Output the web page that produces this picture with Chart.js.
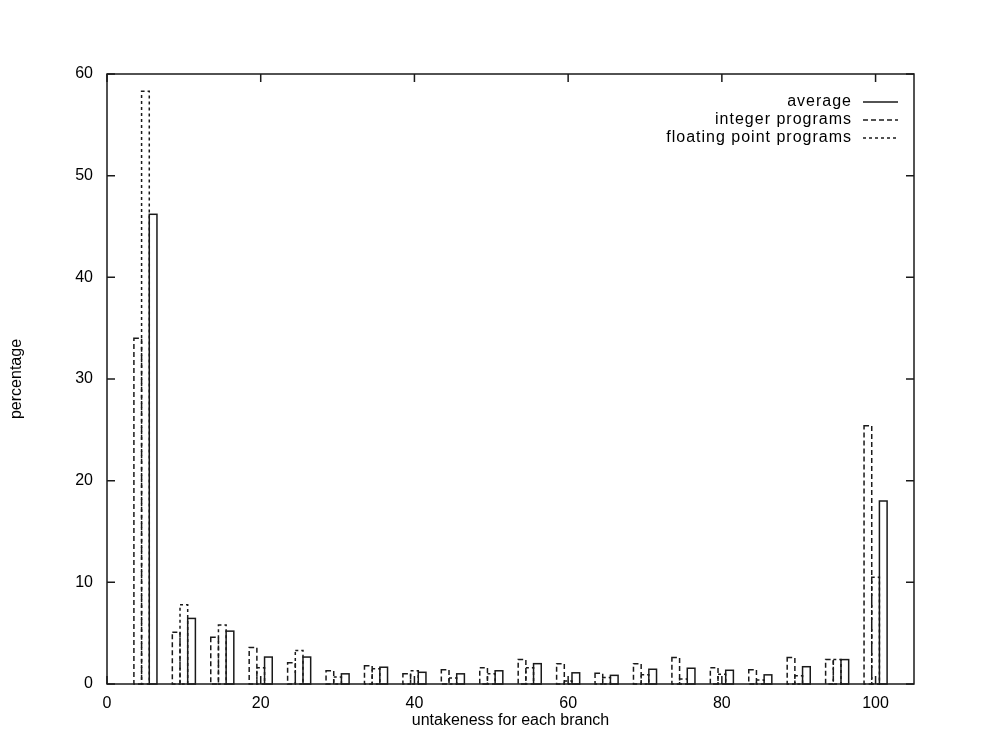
<!DOCTYPE html>
<html>
<head>
<meta charset="utf-8">
<script src="https://cdn.jsdelivr.net/npm/chart.js@4.4.1/dist/chart.umd.min.js"></script>
<style>
  html, body { margin: 0; padding: 0; background: #fff; }
  #wrap { width: 990px; height: 742px; }
</style>
</head>
<body>
<div id="wrap"><canvas id="histChart" width="990" height="742"></canvas></div>
<script>
// untakeness bins (percent)
const bins = [5, 10, 15, 20, 25, 30, 35, 40, 45, 50, 55, 60, 65, 70, 75, 80, 85, 90, 95, 100];

// percentage of branches per bin
const integerPrograms = [34.0, 5.1, 4.6, 3.6, 2.1, 1.3, 1.8, 1.0, 1.4, 1.6, 2.4, 2.0, 1.05, 2.0, 2.6, 1.6, 1.4, 2.6, 2.4, 25.4];
const floatPrograms   = [58.3, 7.8, 5.8, 1.6, 3.3, 0.7, 1.5, 1.3, 0.6, 1.0, 1.6, 0.3, 0.65, 0.9, 0.5, 0.95, 0.4, 0.8, 2.4, 10.5];
const average         = [46.2, 6.45, 5.2, 2.65, 2.65, 1.0, 1.65, 1.15, 1.0, 1.3, 2.0, 1.1, 0.85, 1.45, 1.55, 1.35, 0.9, 1.7, 2.4, 18.0];

const xTicks = [0, 20, 40, 60, 80, 100];
const yTicks = [0, 10, 20, 30, 40, 50, 60];

const INK = '#1a1a1a';
const FONT = 'Liberation Sans, Arial, Helvetica, sans-serif';

Chart.defaults.font.family = FONT;
Chart.defaults.font.size = 16;
Chart.defaults.color = '#000';

function toPoints(vals) {
    return bins.map((b, i) => ({ x: b, y: vals[i] }));
}

// gnuplot-like boxes: outlined bars, inward ticks, full frame, key top right
const gnuplotLook = {
    id: 'gnuplotLook',
    afterDatasetsDraw(chart) {
        const ctx = chart.ctx;
        const area = chart.chartArea;
        ctx.save();
        ctx.beginPath();
        ctx.rect(area.left - 2, area.top - 2, area.width + 4, area.height + 4);
        ctx.clip();
        ctx.strokeStyle = INK;
        ctx.lineWidth = 1.5;
        chart.data.datasets.forEach((ds, di) => {
            const meta = chart.getDatasetMeta(di);
            ctx.setLineDash(ds.dash);
            meta.data.forEach(bar => {
                const p = bar.getProps(['x', 'y', 'base', 'width'], true);
                ctx.strokeRect(p.x - p.width / 2, p.y, p.width, p.base - p.y);
            });
        });
        ctx.restore();
    },
    afterDraw(chart) {
        const ctx = chart.ctx;
        const area = chart.chartArea;
        const xs = chart.scales.x, ys = chart.scales.y;
        const tl = 8;
        ctx.save();
        ctx.strokeStyle = INK;
        ctx.lineWidth = 1.5;
        ctx.setLineDash([]);
        ctx.strokeRect(area.left, area.top, area.width, area.height);
        ctx.beginPath();
        xs.ticks.forEach((t, i) => {
            const px = xs.getPixelForTick(i);
            ctx.moveTo(px, area.bottom); ctx.lineTo(px, area.bottom - tl);
            ctx.moveTo(px, area.top); ctx.lineTo(px, area.top + tl);
        });
        ys.ticks.forEach((t, i) => {
            const py = ys.getPixelForTick(i);
            ctx.moveTo(area.left, py); ctx.lineTo(area.left + tl, py);
            ctx.moveTo(area.right, py); ctx.lineTo(area.right - tl, py);
        });
        ctx.stroke();

        // key
        const keyOrder = [2, 0, 1];
        ctx.font = '16px ' + FONT;
        ctx.fillStyle = '#000';
        ctx.textAlign = 'right';
        ctx.textBaseline = 'middle';
        if ('letterSpacing' in ctx) ctx.letterSpacing = '1px';
        keyOrder.forEach((di, row) => {
            const ds = chart.data.datasets[di];
            const y = area.top + 28 + row * 18;
            const xEnd = area.right - 62;
            ctx.fillText(ds.label, xEnd, y);
            ctx.setLineDash(ds.dash);
            ctx.beginPath();
            ctx.moveTo(xEnd + 11, y);
            ctx.lineTo(xEnd + 46, y);
            ctx.stroke();
        });
        ctx.restore();
    }
};

new Chart(document.getElementById('histChart'), {
    type: 'bar',
    data: {
        datasets: [
            { label: 'integer programs', data: toPoints(integerPrograms), dash: [5, 3] },
            { label: 'floating point programs', data: toPoints(floatPrograms), dash: [3, 3] },
            { label: 'average', data: toPoints(average), dash: [] }
        ].map(ds => Object.assign(ds, {
            backgroundColor: 'rgba(0,0,0,0)',
            borderWidth: 0,
            categoryPercentage: 0.6,
            barPercentage: 1.0
        }))
    },
    options: {
        responsive: false,
        animation: false,
        events: [],
        layout: { padding: { top: 74, right: 76, left: 0, bottom: 0 } },
        plugins: {
            legend: { display: false },
            tooltip: { enabled: false }
        },
        scales: {
            x: {
                type: 'linear',
                min: 0,
                max: 105,
                offset: false,
                grid: { display: false, offset: false },
                border: { display: false },
                afterBuildTicks: s => { s.ticks = xTicks.map(v => ({ value: v })); },
                afterFit: s => { s.height = 58; },
                ticks: { padding: 2, maxRotation: 0, autoSkip: false, color: '#000' },
                title: {
                    display: true,
                    text: 'untakeness for each branch',
                    color: '#000',
                    padding: { top: 0, bottom: 12 }
                }
            },
            y: {
                min: 0,
                max: 60,
                grid: { display: false },
                border: { display: false },
                afterBuildTicks: s => { s.ticks = yTicks.map(v => ({ value: v })); },
                afterFit: s => { s.width = 107; },
                ticks: { padding: 6, color: '#000' },
                title: {
                    display: true,
                    text: 'percentage',
                    color: '#000',
                    padding: { top: 7, bottom: 0 }
                }
            }
        }
    },
    plugins: [gnuplotLook]
});
</script>
</body>
</html>
